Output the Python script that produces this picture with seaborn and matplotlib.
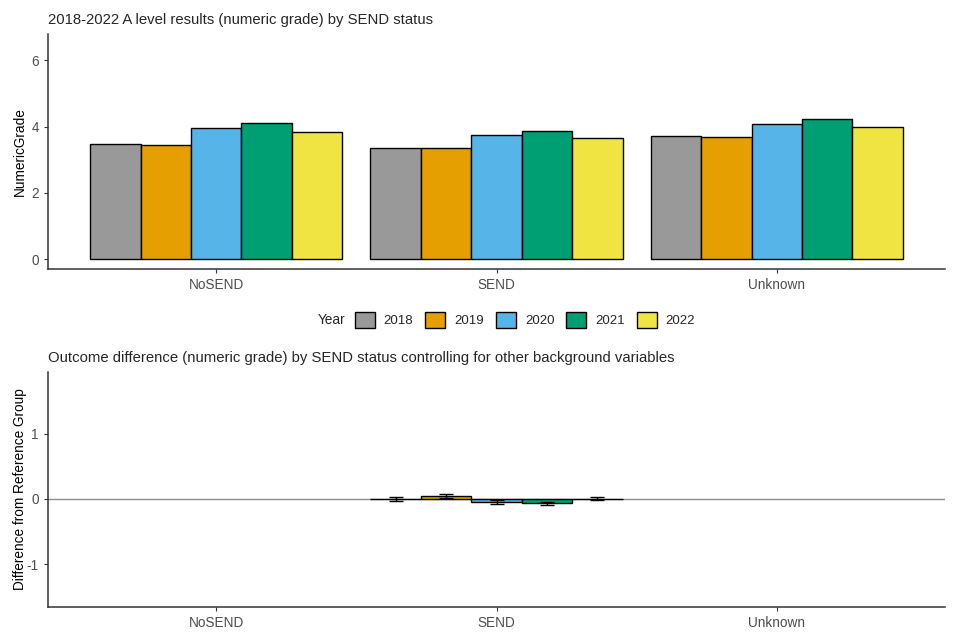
import numpy as np
import pandas as pd
import seaborn as sns
from matplotlib import pyplot as plt
from matplotlib.patches import Patch

# === Data ===
groups = ["NoSEND", "SEND", "Unknown"]
years = ["2018", "2019", "2020", "2021", "2022"]
palette = ["#999999", "#E69F00", "#56B4E9", "#009E73", "#F0E442"]

grade_nosend = [3.49, 3.44, 3.97, 4.10, 3.83]
grade_send = [3.36, 3.36, 3.76, 3.88, 3.67]
grade_unknown = [3.72, 3.69, 4.09, 4.24, 3.98]

# model estimates for SEND only (NoSEND is reference, Unknown not shown)
diff_send = [0.0, 0.04, -0.045, -0.07, 0.005]
diff_lo = [-0.03, 0.01, -0.075, -0.095, -0.02]
diff_hi = [0.03, 0.07, -0.01, -0.045, 0.025]

top_df = pd.DataFrame({
    "SEND": np.repeat(groups, len(years)),
    "Year": years * len(groups),
    "NumericGrade": grade_nosend + grade_send + grade_unknown,
})
bot_df = pd.DataFrame({
    "SEND": ["SEND"] * len(years),
    "Year": years,
    "Diff": diff_send,
})

sns.set_theme(style="white")
plt.rcParams["font.family"] = ["Liberation Sans", "DejaVu Sans"]
plt.rcParams["axes.unicode_minus"] = False

fig = plt.figure(figsize=(9.6, 6.4), dpi=100)
ax1 = fig.add_axes([48 / 960, 1 - 269 / 640, 897 / 960, 235 / 640])
ax2 = fig.add_axes([48 / 960, 1 - 607 / 640, 897 / 960, 235 / 640])


def style_axes(ax):
    for s in ["top", "right"]:
        ax.spines[s].set_visible(False)
    for s in ["left", "bottom"]:
        ax.spines[s].set_color("#333333")
        ax.spines[s].set_linewidth(1.1)
    ax.tick_params(axis="both", colors="#333333", labelcolor="#4d4d4d",
                   labelsize=9.8, length=3, width=0.8, direction="out", bottom=True, left=True)
    ax.set_xlabel("")
    ax.set_xlim(-0.6, 2.6)


# top panel
sns.barplot(data=top_df, x="SEND", y="NumericGrade", hue="Year", order=groups,
            hue_order=years, palette=palette, saturation=1, width=0.9, edgecolor="black",
            linewidth=1, errorbar=None, ax=ax1, legend=False)
style_axes(ax1)
ax1.set_ylim(-0.3, 6.8)
ax1.set_yticks([0, 2, 4, 6])
ax1.set_ylabel("NumericGrade", fontsize=9.8, color="black", va="center")
ax1.yaxis.set_label_coords(-28 / 897, 0.5)
ax1.set_title("2018-2022 A level results (numeric grade) by SEND status",
              loc="left", fontsize=10.7, pad=7)

# bottom panel
ax2.axhline(0, color="#8c8c8c", linewidth=1, zorder=0)
sns.barplot(data=bot_df, x="SEND", y="Diff", hue="Year", order=groups,
            hue_order=years, palette=palette, saturation=1, width=0.9, edgecolor="black",
            linewidth=1, errorbar=None, ax=ax2, legend=False)
bar_conts = list(ax2.containers)
for i, cont in enumerate(bar_conts):
    for bar in cont:
        if bar is None:
            continue
        xc = bar.get_x() + bar.get_width() / 2
        ax2.errorbar(xc, diff_send[i],
                     yerr=[[diff_send[i] - diff_lo[i]], [diff_hi[i] - diff_send[i]]],
                     fmt="none", ecolor="black", elinewidth=1, capsize=5, capthick=1, zorder=5)
style_axes(ax2)
ax2.set_ylim(-1.66, 1.95)
ax2.set_yticks([-1, 0, 1])
ax2.set_ylabel("Difference from Reference Group", fontsize=9.8, color="black", va="center")
ax2.yaxis.set_label_coords(-28 / 897, 0.5)
ax2.set_title("Outcome difference (numeric grade) by SEND status controlling for other background variables",
              loc="left", fontsize=10.7, pad=7)

# legend between panels
handles = [Patch(facecolor=c, edgecolor="black", linewidth=1) for c in palette]
fig.legend(handles, years, loc="center", bbox_to_anchor=(525 / 960, 1 - 320 / 640),
           ncol=5, frameon=False, fontsize=9.5, handlelength=1.5, handleheight=1.5,
           columnspacing=0.9, handletextpad=0.7)
fig.text(318 / 960, 1 - 320 / 640, "Year", fontsize=9.8, va="center", ha="left")

fig.savefig("out.png", dpi=100)
